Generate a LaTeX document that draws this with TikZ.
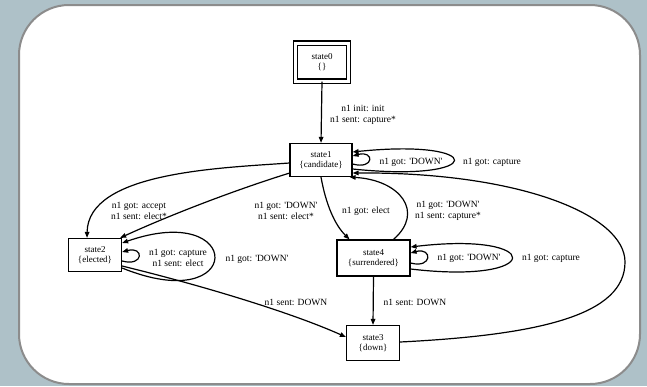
\documentclass[tikz,border=0pt]{standalone}
\usepackage{fontspec}
\setmainfont{Liberation Serif}
\usetikzlibrary{arrows.meta,calc}
\definecolor{bgc}{HTML}{AEC1C8}
\definecolor{framec}{HTML}{8C8C8C}
\newcommand{\sq}{\textquotesingle}
\begin{document}
\begin{tikzpicture}[x=1pt,y=-1pt,
  statebox/.style={draw,line width=1.2pt,rectangle,inner sep=0pt,align=center,font=\fontsize{9}{10.5}\selectfont},
  lbl/.style={align=center,font=\fontsize{9.5}{11}\selectfont,inner sep=0pt},
  edge/.style={line width=1.2pt,-{Triangle[length=6pt,width=4.5pt]}},
]
\fill[bgc] (0,0) rectangle (647,386);
\useasboundingbox (0,0) rectangle (647,386);
\draw[framec,line width=2pt,fill=white,rounded corners=50pt] (19,5) rectangle (640,384);

% states
\node[statebox,minimum width=53pt,minimum height=38pt,double,double distance=3pt] (s0) at (322,62) {state0\\\{\}};
\node[statebox,minimum width=62pt,minimum height=33pt] (s1) at (321,160) {state1\\\{candidate\}};
\node[statebox,minimum width=53pt,minimum height=33pt] (s2) at (95,255) {state2\\\{elected\}};
\node[statebox,minimum width=73pt,minimum height=36pt] (s4) at (373.5,258) {state4\\\{surrendered\}};
\node[statebox,minimum width=53pt,minimum height=35pt] (s3) at (373,343) {state3\\\{down\}};
\coordinate (bend) at (625,262);

% edges
\draw[edge] (s0.south) -- (s1.north);
\node[lbl] (l01) at (363,115) {n1 init: init\\n1 sent: capture*};

\draw[edge] ($(s1.east)+(0,4)$) .. controls +(22,6) and +(22,-6) .. ($(s1.east)+(0,-4)$);
\node[lbl] (l11a) at (411,162) {n1 got: \sq DOWN\sq};
\draw[edge] ($(s1.east)+(0,9)$) .. controls +(135,14) and +(135,-14) .. ($(s1.east)+(0,-8)$);
\node[lbl] (l11b) at (492,162) {n1 got: capture};

\draw[edge] ($(s1.west)+(0,3)$) .. controls (220,168) and (88,172) .. ($(s2.north)+(-8,0)$);
\node[lbl] (l12a) at (139,211) {n1 got: accept\\n1 sent: elect*};

\draw[edge] ($(s1.south west)+(0,-4)$) .. controls (235,190) and (170,215) .. ($(s2.north east)+(-2,0)$);
\node[lbl] (l12b) at (286,211) {n1 got: \sq DOWN\sq\\n1 sent: elect*};

\draw[edge] (s1.south) .. controls (326,205) and (335,225) .. ($(s4.north)+(-24,0)$);
\node[lbl] (l14) at (366,211) {n1 got: elect};

\draw[edge] ($(s4.north)+(20,0)$) .. controls (425,212) and (400,180) .. ($(s1.south east)+(-3,0)$);
\node[lbl] (l41) at (448,211) {n1 got: \sq DOWN\sq\\n1 sent: capture*};

\draw[edge] ($(s4.east)+(0,5)$) .. controls +(22,6) and +(22,-6) .. ($(s4.east)+(0,-5)$);
\node[lbl] (l44a) at (469,258) {n1 got: \sq DOWN\sq};
\draw[edge] ($(s4.east)+(0,11)$) .. controls +(135,16) and +(135,-16) .. ($(s4.east)+(0,-11)$);
\node[lbl] (l44b) at (551,258) {n1 got: capture};

\draw[edge] ($(s2.east)+(0,6)$) .. controls +(22,6) and +(22,-6) .. ($(s2.east)+(0,-3)$);
\node[lbl] (l22a) at (178,258) {n1 got: capture\\n1 sent: elect};
\draw[edge] ($(s2.east)+(0,13)$) .. controls (245,318) and (245,200) .. ($(s2.east)+(0,-12)$);
\node[lbl] (l22b) at (257,259) {n1 got: \sq DOWN\sq};

\draw[edge] ($(s2.east)+(0,11)$) .. controls (200,285) and (290,312) .. ($(s3.west)+(0,-6)$);
\node[lbl] (l23) at (296,302) {n1 sent: DOWN};

\draw[edge] (s4.south) -- (s3.north);
\node[lbl] (l43) at (415,302) {n1 sent: DOWN};

\draw[edge] ($(s3.east)+(0,-1)$) .. controls (540,335) and (625,315) .. (bend)
  .. controls (625,215) and (520,172) .. ($(s1.east)+(0,13)$);
\end{tikzpicture}
\end{document}
